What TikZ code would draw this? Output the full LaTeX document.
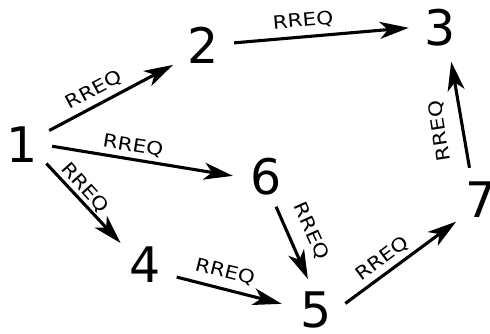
\documentclass[tikz,border=0pt]{standalone}
\usepackage{fontspec}
\setmainfont{DejaVu Sans}
\usetikzlibrary{arrows.meta}
\tikzset{
  num/.style={circle, minimum size=66pt, inner sep=0pt, font=\fontsize{49}{49}\selectfont},
  lbl/.style={inner sep=0pt, font=\fontsize{18.3}{18}\selectfont},
  msg/.style={line width=3.1pt, -{Stealth[length=29pt,width=17pt,inset=8pt]}}
}
\newcommand{\rreq}{\scalebox{1.18}[1]{RREQ}}
\begin{document}
\begin{tikzpicture}[x=1pt,y=-1pt]
\useasboundingbox (0,0) rectangle (490,333);
\node[num] (n1) at (22,145) {1};
\node[num] (n2) at (203,45) {2};
\node[num] (n3) at (440,28) {3};
\node[num] (n4) at (145,265) {4};
\node[num] (n5) at (316,310) {5};
\node[num] (n6) at (266,177) {6};
\node[num] (n7) at (481,200) {7};

\draw[msg, shorten <=-2.4pt, shorten >=2.8pt] (n1.28.7) -- (n2.214.2);
\draw[msg, shorten <=-2.1pt, shorten >=-2pt] (n2.4.9) -- (n3.180);
\draw[msg, shorten <=-3.1pt] (n1.-3.2) -- (n6.178.3);
\draw[msg, shorten <=-2.6pt, shorten >=-0.3pt] (n1.-38.2) -- (n4.138.7);
\draw[msg, shorten <=0.7pt, shorten >=1.6pt] (n4.-21.8) -- (n5.170.8);
\draw[msg, shorten <=-1.8pt, shorten >=-1.2pt] (n6.-71.6) -- (n5.105.3);
\draw[msg, shorten <=-3.4pt, shorten >=-0.3pt] (n5.15.9) -- (n7.221.3);
\draw[msg, shorten <=1pt, shorten >=2.3pt] (n7.110.1) -- (n3.-71);

\node[lbl, rotate=28] (l12) at (94,90) {\rreq};
\node[lbl, rotate=5] (l23) at (303,21) {\rreq};
\node[lbl, rotate=-9] (l16) at (133,146) {\rreq};
\node[lbl, rotate=-48] (l14) at (85,188) {\rreq};
\node[lbl, rotate=-14] (l45) at (225,272) {\rreq};
\node[lbl, rotate=-66] (l65) at (311,231) {\rreq};
\node[lbl, rotate=36.6] (l57) at (382,259) {\rreq};
\node[lbl, rotate=98.5] (l73) at (440,131) {\rreq};
\end{tikzpicture}
\end{document}
